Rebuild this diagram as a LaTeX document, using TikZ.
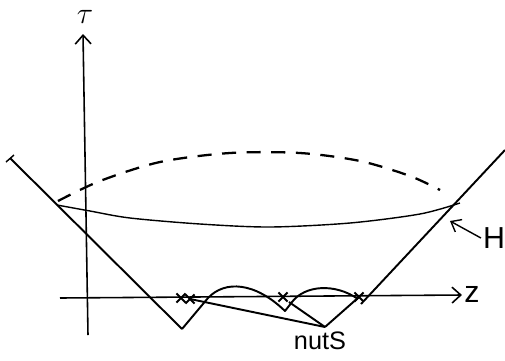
\documentclass[tikz,border=0pt]{standalone}
\usepackage{fontspec}
\setsansfont{Liberation Sans}
\usetikzlibrary{arrows.meta, shapes.misc}

\begin{document}
\begin{tikzpicture}[
				x=0.02cm, y=-0.02cm,
				font=\sffamily,
				axis/.style={line width=0.9pt, -{Straight Barb[length=5pt, width=9pt]}},
				edge/.style={line width=1.1pt, line join=round},
				thin edge/.style={line width=0.8pt},
				dashcurve/.style={line width=1.3pt, dash pattern=on 8pt off 6pt},
				xmark/.style={cross out, draw, line width=1.2pt, minimum size=4pt, inner sep=0pt},
				lbl/.style={inner sep=1pt}
				]
				
				\useasboundingbox (0,0) rectangle (505,360);
				
				% Points
				\coordinate (ltop) at (10,158);
				\coordinate (lvert) at (182,329);
				\coordinate (rtop) at (505,150);
				\coordinate (rfoot) at (361,304);
				\coordinate (svert) at (325,327);
				\coordinate (cusp) at (285,311);
				
				% Labels
				\node[lbl] (tau) at (85,17) {\LARGE$\tau$};
				\node[lbl] (zlab) at (472,294) {\LARGE z};
				\node[lbl] (hlab) at (494,238) {\LARGE H};
				\node[lbl] (nuts) at (320,341) {\Large nutS};
				
				% Axes
				\coordinate (tbot) at (88,335);
				\coordinate (ttop) at (83,34);
				\coordinate (zleft) at (60,298);
				\coordinate (zright) at (462,295);
				\draw[axis] (tbot) -- (ttop);
				\draw[axis] (zleft) -- (zright);
				
				% Light-cone lines
				\draw[edge] (ltop) -- (lvert);
				\draw[thin edge] (6,162) -- (14,155);
				\draw[edge] (rtop) -- (rfoot);
				\draw[edge] (svert) -- (359,297);
				
				% Wavy front
				\draw[edge] (lvert) -- (208,298) .. controls (225,280) and (255,282) .. (cusp)
				-- (292,302) .. controls (305,285) and (335,283) .. (358,299);
				
				% Marks on the z axis
				\node[xmark] (x1) at (181,298) {};
				\node[xmark] (x2) at (190,299) {};
				\node[xmark] (x3) at (283,297) {};
				\node[xmark] (x4) at (359,297) {};
				
				% Lines to the vertex
				\draw[edge] (x2.center) -- (svert);
				\draw[edge] (289,302) -- (svert);
				
				% Surface H and its dashed back
				\draw[thin edge] plot[smooth] coordinates {(57,205) (90,211) (130,218) (200,224) (270,227) (350,223) (420,214) (460,203)};
				\draw[dashcurve] plot[smooth] coordinates {(58,201) (100,181) (160,162) (230,153) (300,153) (360,161) (410,176) (440,190)};
				
				% Pointer to H
				\coordinate (hpt) at (450,221);
				\draw[thin edge, -{Straight Barb[length=5pt, width=8pt]}] (hlab.west) -- (hpt);
				
			\end{tikzpicture}
\end{document}
